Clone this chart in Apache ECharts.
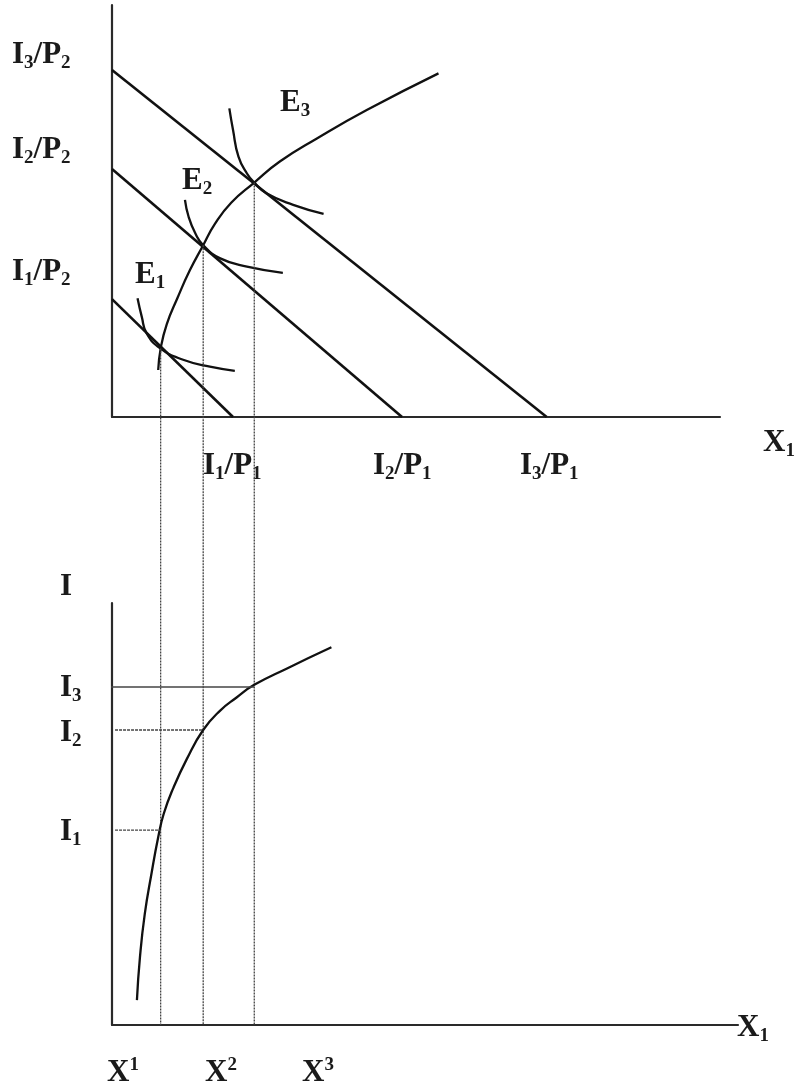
<!DOCTYPE html>
<html>
<head>
<meta charset="utf-8">
<script src="https://cdn.jsdelivr.net/npm/echarts@6/dist/echarts.min.js"></script>
<style>
  html, body { margin: 0; padding: 0; background: #fff; }
  #main { width: 799px; height: 1090px; }
</style>
</head>
<body>
<div id="main"></div>
<script>
// budget lines: intercepts on X1 (I/P1) and on X2 (I/P2)
const budgetX = [19.9, 47.7, 71.5];
const budgetY = [28.6, 60.2, 84.2];

// equilibrium points E1, E2, E3
const eqX = [8.0, 15.0, 23.4];
const eqY = [16.6, 41.7, 56.9];

// income-consumption curve
const iccX = [7.6, 8.0, 9.0, 10.8, 12.8, 15.0, 16.9, 19.6, 23.4, 27.6, 33.7, 41.9, 53.7];
const iccY = [11.4, 16.6, 22.5, 29.0, 35.6, 41.7, 46.8, 52.0, 56.9, 62.0, 67.6, 74.5, 83.4];

// indifference curves
const ic1X = [4.2, 4.9, 5.7, 8.0, 11.7, 16.1, 20.2];
const ic1Y = [28.8, 24.3, 20.3, 16.6, 13.9, 12.2, 11.2];
const ic2X = [12.0, 12.6, 13.7, 15.0, 17.8, 22.2, 28.1];
const ic2Y = [52.7, 48.6, 44.6, 41.7, 38.5, 36.5, 35.0];
const ic3X = [19.3, 19.9, 20.8, 22.2, 23.4, 25.4, 29.8, 34.8];
const ic3Y = [74.9, 69.7, 63.2, 59.1, 56.9, 54.3, 51.5, 49.3];

// Engel curve (bottom panel)
const engelX = [4.1, 4.6, 5.4, 6.5, 7.6, 8.5, 10.1, 12.3, 15.0, 17.8, 20.5, 23.4, 28.8, 36.1];
const engelY = [5.9, 16.1, 26.4, 35.9, 44.5, 50.0, 56.2, 63.0, 69.9, 74.5, 77.6, 80.6, 84.5, 89.5];
const engelLevels = [46.2, 69.9, 80.1];

// how far the drop lines run below the top axis (top-panel y units, down to the lower X1 axis)
const dropBottom = -147.6;

const ink = '#111';
const serif = '"Liberation Serif", "DejaVu Serif", serif';

function pairs(xs, ys) {
  return xs.map((x, i) => [x, ys[i]]);
}

const rich = {
  m: { fontSize: 31, fontWeight: 'bold', fontFamily: serif, fill: '#1a1a1a' },
  s: { fontSize: 19, fontWeight: 'bold', fontFamily: serif, fill: '#1a1a1a', padding: [16, 0, 0, 0] },
  u: { fontSize: 19, fontWeight: 'bold', fontFamily: serif, fill: '#1a1a1a', padding: [0, 0, 16, 0] }
};

function label(x, y, text) {
  return {
    type: 'text',
    x: x,
    y: y,
    style: { text: text, rich: rich, textVerticalAlign: 'middle', textAlign: 'left' },
    silent: true
  };
}

let series = [];

// budget lines
budgetX.forEach((bx, i) => {
  series.push({
    type: 'line', xAxisIndex: 0, yAxisIndex: 0, symbol: 'none',
    data: [[0, budgetY[i]], [bx, 0]],
    lineStyle: { color: ink, width: 2.6 }
  });
});

// income-consumption curve
series.push({
  type: 'line', xAxisIndex: 0, yAxisIndex: 0, symbol: 'none', smooth: 0.5,
  data: pairs(iccX, iccY),
  lineStyle: { color: ink, width: 2.3 }
});

// indifference curves
[[ic1X, ic1Y], [ic2X, ic2Y], [ic3X, ic3Y]].forEach(c => {
  series.push({
    type: 'line', xAxisIndex: 0, yAxisIndex: 0, symbol: 'none', smooth: 0.5,
    data: pairs(c[0], c[1]),
    lineStyle: { color: ink, width: 2.3 }
  });
});

// dotted drop lines from E1..E3 down to the lower X1 axis
eqX.forEach((x, i) => {
  series.push({
    type: 'line', xAxisIndex: 0, yAxisIndex: 0, symbol: 'none', clip: false,
    data: [[x, eqY[i]], [x, dropBottom]],
    lineStyle: { color: '#444', width: 1.3, type: [2, 1] }
  });
});

// Engel curve
series.push({
  type: 'line', xAxisIndex: 1, yAxisIndex: 1, symbol: 'none', smooth: 0.5,
  data: pairs(engelX, engelY),
  lineStyle: { color: ink, width: 2.3 }
});

// horizontal guides I1..I3
engelLevels.forEach((lv, i) => {
  series.push({
    type: 'line', xAxisIndex: 1, yAxisIndex: 1, symbol: 'none', clip: false,
    data: [[i === 2 ? -1 : 0.5, lv], [eqX[i], lv]],
    lineStyle: { color: '#444', width: 1.3, type: i === 2 ? 'solid' : [3, 1] }
  });
});

const axisLine = { show: true, onZero: false, lineStyle: { color: '#2a2a2a', width: 2.2 } };
const bare = {
  type: 'value', axisLine: axisLine, axisTick: { show: false },
  axisLabel: { show: false }, splitLine: { show: false }
};

const option = {
  backgroundColor: '#fff',
  animation: false,
  grid: [
    { left: 112, top: 5, width: 608, height: 412 },
    { left: 112, top: 603, width: 626, height: 422 }
  ],
  xAxis: [
    Object.assign({ gridIndex: 0, min: 0, max: 100 }, bare),
    Object.assign({ gridIndex: 1, min: 0, max: 103 }, bare)
  ],
  yAxis: [
    Object.assign({ gridIndex: 0, min: 0, max: 100 }, bare),
    Object.assign({ gridIndex: 1, min: 0, max: 100 }, bare)
  ],
  series: series,
  graphic: [
    label(12, 55, '{m|I}{s|3}{m|/P}{s|2}'),
    label(12, 150, '{m|I}{s|2}{m|/P}{s|2}'),
    label(12, 272, '{m|I}{s|1}{m|/P}{s|2}'),
    label(280, 103, '{m|E}{s|3}'),
    label(182, 181, '{m|E}{s|2}'),
    label(135, 275, '{m|E}{s|1}'),
    label(203, 466, '{m|I}{s|1}{m|/P}{s|1}'),
    label(373, 466, '{m|I}{s|2}{m|/P}{s|1}'),
    label(520, 466, '{m|I}{s|3}{m|/P}{s|1}'),
    label(763, 443, '{m|X}{s|1}'),
    label(60, 587, '{m|I}'),
    label(60, 688, '{m|I}{s|3}'),
    label(60, 733, '{m|I}{s|2}'),
    label(60, 832, '{m|I}{s|1}'),
    label(107, 1073, '{m|X}{u|1}'),
    label(205, 1073, '{m|X}{u|2}'),
    label(302, 1073, '{m|X}{u|3}'),
    label(737, 1028, '{m|X}{s|1}')
  ]
};

const chart = echarts.init(document.getElementById('main'), null, { renderer: 'canvas' });
chart.setOption(option);
</script>
</body>
</html>
